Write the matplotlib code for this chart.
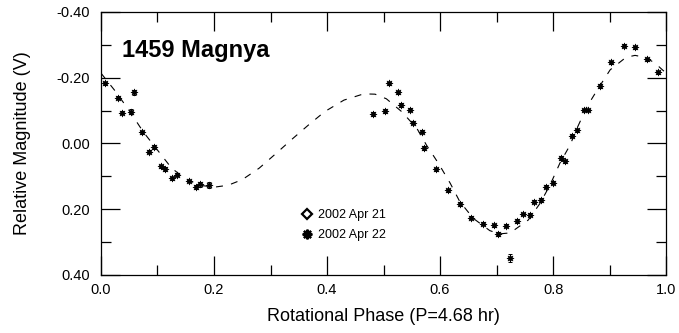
import matplotlib
matplotlib.use("Agg")
import matplotlib.pyplot as plt
from matplotlib.lines import Line2D
from matplotlib.ticker import MultipleLocator, FormatStrFormatter

plt.rcParams['font.family'] = ['Liberation Sans', 'DejaVu Sans']
plt.rcParams['lines.scale_dashes'] = False

# Observations (2002 Apr 22)
phase = [0.008, 0.031, 0.058, 0.038, 0.053, 0.072, 0.085, 0.093, 0.106, 0.114,
         0.126, 0.135, 0.156, 0.169, 0.176, 0.191,
         0.481, 0.503, 0.510, 0.526, 0.531, 0.547, 0.552, 0.568, 0.572, 0.593,
         0.614, 0.635, 0.655, 0.676, 0.696, 0.702, 0.717, 0.724, 0.737, 0.746,
         0.759, 0.767, 0.779, 0.788, 0.800, 0.814, 0.821, 0.834, 0.842, 0.855,
         0.862, 0.883, 0.903, 0.925, 0.945, 0.966, 0.986]
mag = [-0.183, -0.139, -0.156, -0.094, -0.097, -0.034, 0.025, 0.011, 0.069, 0.078,
       0.106, 0.095, 0.114, 0.133, 0.124, 0.126,
       -0.091, -0.099, -0.183, -0.156, -0.117, -0.103, -0.063, -0.036, 0.014, 0.079,
       0.142, 0.183, 0.226, 0.244, 0.249, 0.276, 0.250, 0.347, 0.236, 0.214,
       0.217, 0.177, 0.173, 0.131, 0.119, 0.043, 0.054, -0.024, -0.040, -0.102,
       -0.102, -0.175, -0.247, -0.297, -0.293, -0.256, -0.217]
err = [0.005, 0.005, 0.008, 0.005, 0.007, 0.005, 0.004, 0.006, 0.005, 0.006,
       0.005, 0.005, 0.004, 0.006, 0.007, 0.008,
       0.006, 0.006, 0.005, 0.004, 0.005, 0.005, 0.004, 0.005, 0.005, 0.004,
       0.005, 0.006, 0.004, 0.004, 0.004, 0.006, 0.004, 0.012, 0.005, 0.004,
       0.005, 0.005, 0.006, 0.005, 0.004, 0.006, 0.005, 0.005, 0.005, 0.004,
       0.004, 0.005, 0.005, 0.005, 0.005, 0.005, 0.005]

# Fitted lightcurve
fit_phase = [0.0, 0.025, 0.05, 0.075, 0.10, 0.125, 0.15, 0.175, 0.20, 0.225,
             0.25, 0.28, 0.31, 0.34, 0.367, 0.396, 0.43, 0.465, 0.485, 0.505,
             0.532, 0.559, 0.576, 0.597, 0.618, 0.635, 0.659, 0.688, 0.705, 0.724,
             0.756, 0.777, 0.795, 0.812, 0.830, 0.842, 0.860, 0.880, 0.901, 0.929,
             0.945, 0.963, 0.98, 1.0]
fit_mag = [-0.214, -0.160, -0.100, -0.035, 0.020, 0.075, 0.108, 0.127, 0.133, 0.127,
           0.110, 0.075, 0.030, -0.016, -0.056, -0.097, -0.132, -0.151, -0.150, -0.136,
           -0.097, -0.046, 0.005, 0.060, 0.121, 0.177, 0.228, 0.265, 0.275, 0.272,
           0.233, 0.182, 0.125, 0.060, 0.005, -0.045, -0.112, -0.168, -0.224, -0.262,
           -0.268, -0.262, -0.245, -0.214]

fig = plt.figure(figsize=(6.79, 3.33), dpi=100)
ax = fig.add_axes([0.1487, 0.1742, 0.981 - 0.1487, 0.964 - 0.1742])

ax.plot(fit_phase, fit_mag, color='black', lw=0.8, linestyle=(0, (5, 6)))
star = (8, 1, 0)
ax.errorbar(phase, mag, yerr=err, fmt='none', ecolor='black', elinewidth=0.7,
            capsize=1.5, capthick=0.7)
ax.plot(phase, mag, linestyle='none', marker=star, markersize=5.2,
        color='black', markeredgewidth=0.4)

ax.set_xlim(0.0, 1.0)
ax.set_ylim(0.40, -0.40)
ax.xaxis.set_major_locator(MultipleLocator(0.2))
ax.xaxis.set_minor_locator(MultipleLocator(0.1))
ax.yaxis.set_major_locator(MultipleLocator(0.2))
ax.yaxis.set_minor_locator(MultipleLocator(0.1))
ax.xaxis.set_major_formatter(FormatStrFormatter('%.1f'))
ax.yaxis.set_major_formatter(FormatStrFormatter('%.2f'))
ax.tick_params(which='both', direction='in', top=True, right=True, width=0.9,
               labelsize=10.5, colors='black')
ax.tick_params(which='major', length=14)
ax.tick_params(which='minor', length=7)
ax.tick_params(axis='x', pad=6)
ax.tick_params(axis='y', pad=8)
for s in ax.spines.values():
    s.set_linewidth(0.9)

ax.set_xlabel('Rotational Phase (P=4.68 hr)', fontsize=13, labelpad=8)
ax.set_ylabel('Relative Magnitude (V)', fontsize=13, labelpad=18)

ax.text(0.038, 0.855, '1459 Magnya', transform=ax.transAxes, fontsize=17,
        fontweight='bold', va='center', ha='left')

h1 = Line2D([], [], linestyle='none', marker='D', markersize=5,
            markerfacecolor='white', markeredgecolor='black', markeredgewidth=1.6)
h2 = Line2D([], [], linestyle='none', marker=(8, 2, 0), markersize=7,
            color='black', markeredgewidth=1.6)
ax.legend([h1, h2], ['2002 Apr 21', '2002 Apr 22'], loc='center left',
          bbox_to_anchor=(0.345, 0.189), frameon=False, fontsize=9,
          handlelength=0.8, handletextpad=0.5, labelspacing=0.62, borderpad=0)

fig.savefig('out.png', dpi=100)
